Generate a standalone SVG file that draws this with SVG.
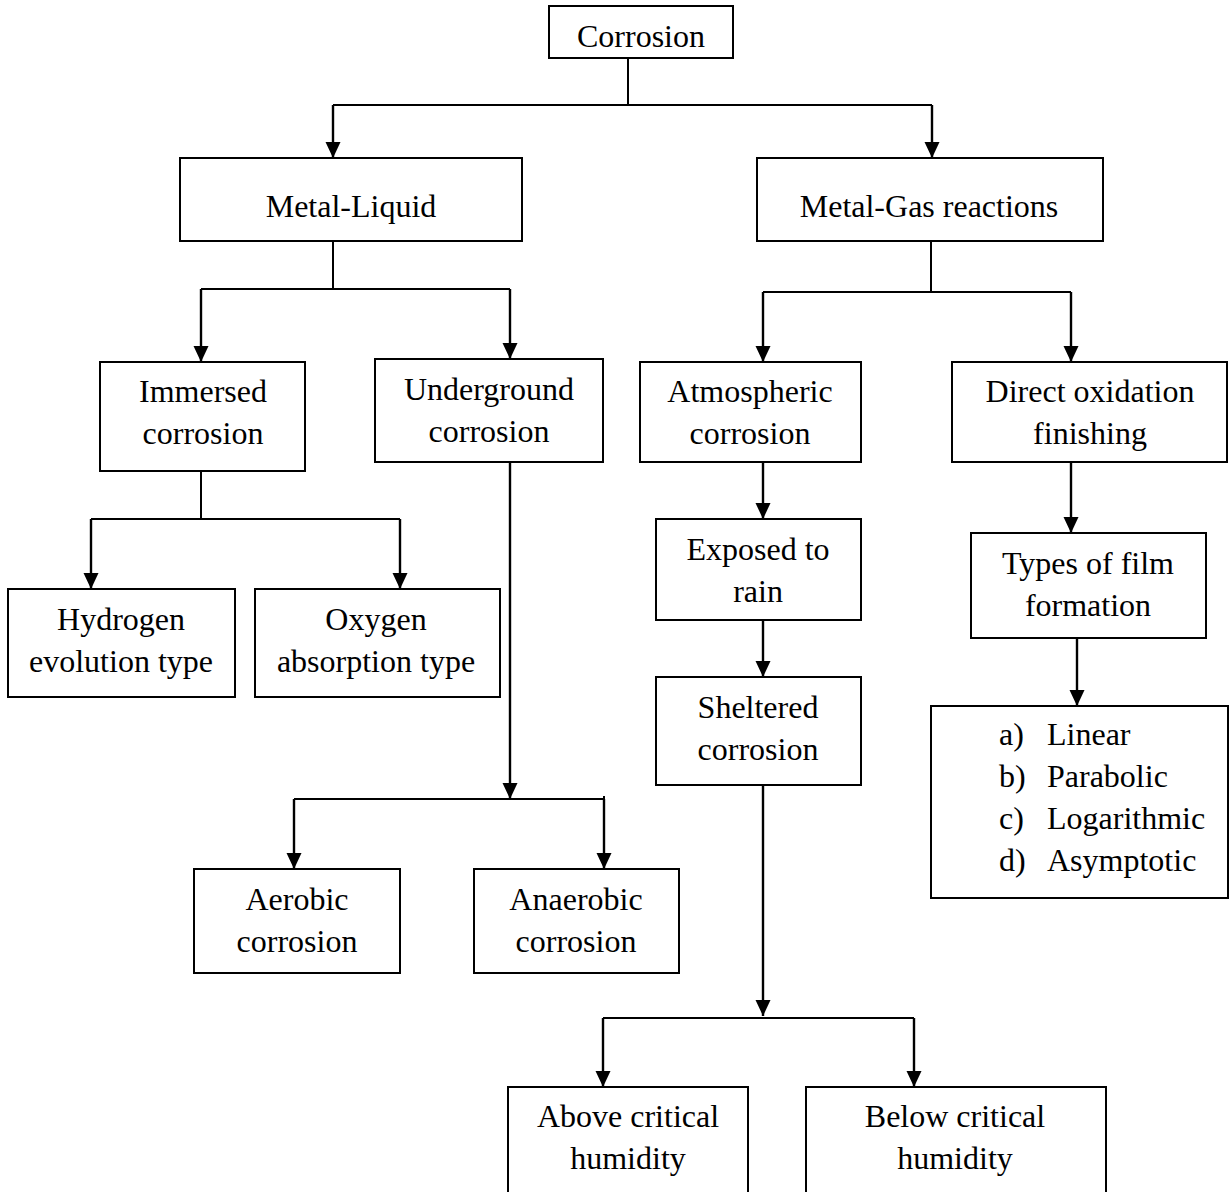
<svg xmlns="http://www.w3.org/2000/svg" width="1229" height="1192" viewBox="0 0 1229 1192">
<style>
.box{fill:#fff;stroke:#000;stroke-width:2}
.t{font-family:"Liberation Serif","Times New Roman",serif;font-size:32px;fill:#000;text-anchor:middle}
.ts{font-family:"Liberation Serif","Times New Roman",serif;font-size:32px;fill:#000}
.c{fill:none;stroke:#000;stroke-width:2}
.a{fill:none;stroke:#000;stroke-width:2.4;marker-end:url(#arr)}
</style>
<defs>
<marker id="arr" markerUnits="userSpaceOnUse" markerWidth="16" markerHeight="16" refX="16" refY="8" orient="auto">
<path d="M0,0.5 L16,8 L0,15.5 z" fill="#000"/>
</marker>
</defs>
<rect width="1229" height="1192" fill="#fff"/>
<g id="connectors">
<path class="c" d="M628,58 V105 M333,105 H932"/>
<path class="a" d="M333,105 V158"/>
<path class="a" d="M932,105 V158"/>
<path class="c" d="M333,241 V289 M201,289 H510"/>
<path class="a" d="M201,289 V362"/>
<path class="a" d="M510,289 V359"/>
<path class="c" d="M931,241 V292 M763,292 H1071"/>
<path class="a" d="M763,292 V362"/>
<path class="a" d="M1071,292 V362"/>
<path class="c" d="M201,471 V519 M91,519 H400"/>
<path class="a" d="M91,519 V589"/>
<path class="a" d="M400,519 V589"/>
<path class="a" d="M510,462 V799"/>
<path class="c" d="M294,799 H604 M604,796 V799"/>
<path class="a" d="M294,799 V869"/>
<path class="a" d="M604,799 V869"/>
<path class="a" d="M763,462 V519"/>
<path class="a" d="M763,620 V677"/>
<path class="a" d="M763,785 V1016"/>
<path class="c" d="M603,1018 H914"/>
<path class="a" d="M603,1018 V1087"/>
<path class="a" d="M914,1018 V1087"/>
<path class="a" d="M1071,462 V533"/>
<path class="a" d="M1077,638 V706"/>
</g>
<g id="corrosion"><rect class="box" x="549" y="6" width="184" height="52"/><text class="t" x="641" y="47">Corrosion</text></g>
<g id="metal-liquid"><rect class="box" x="180" y="158" width="342" height="83"/><text class="t" x="351" y="217">Metal-Liquid</text></g>
<g id="metal-gas"><rect class="box" x="757" y="158" width="346" height="83"/><text class="t" x="929" y="217">Metal-Gas reactions</text></g>
<g id="immersed"><rect class="box" x="100" y="362" width="205" height="109"/><text class="t" x="203" y="402">Immersed</text><text class="t" x="203" y="444">corrosion</text></g>
<g id="underground"><rect class="box" x="375" y="359" width="228" height="103"/><text class="t" x="489" y="400">Underground</text><text class="t" x="489" y="442">corrosion</text></g>
<g id="atmospheric"><rect class="box" x="640" y="362" width="221" height="100"/><text class="t" x="750" y="402">Atmospheric</text><text class="t" x="750" y="444">corrosion</text></g>
<g id="direct"><rect class="box" x="952" y="362" width="275" height="100"/><text class="t" x="1090" y="402">Direct oxidation</text><text class="t" x="1090" y="444">finishing</text></g>
<g id="hydrogen"><rect class="box" x="8" y="589" width="227" height="108"/><text class="t" x="121" y="630">Hydrogen</text><text class="t" x="121" y="672">evolution type</text></g>
<g id="oxygen"><rect class="box" x="255" y="589" width="245" height="108"/><text class="t" x="376" y="630">Oxygen</text><text class="t" x="376" y="672">absorption type</text></g>
<g id="exposed"><rect class="box" x="656" y="519" width="205" height="101"/><text class="t" x="758" y="560">Exposed to</text><text class="t" x="758" y="602">rain</text></g>
<g id="types"><rect class="box" x="971" y="533" width="235" height="105"/><text class="t" x="1088" y="574">Types of film</text><text class="t" x="1088" y="616">formation</text></g>
<g id="sheltered"><rect class="box" x="656" y="677" width="205" height="108"/><text class="t" x="758" y="718">Sheltered</text><text class="t" x="758" y="760">corrosion</text></g>
<g id="list"><rect class="box" x="931" y="706" width="297" height="192"/>
<text class="ts" x="999" y="745">a)</text><text class="ts" x="1047" y="745">Linear</text>
<text class="ts" x="999" y="787">b)</text><text class="ts" x="1047" y="787">Parabolic</text>
<text class="ts" x="999" y="829">c)</text><text class="ts" x="1047" y="829">Logarithmic</text>
<text class="ts" x="999" y="871">d)</text><text class="ts" x="1047" y="871">Asymptotic</text></g>
<g id="aerobic"><rect class="box" x="194" y="869" width="206" height="104"/><text class="t" x="297" y="910">Aerobic</text><text class="t" x="297" y="952">corrosion</text></g>
<g id="anaerobic"><rect class="box" x="474" y="869" width="205" height="104"/><text class="t" x="576" y="910">Anaerobic</text><text class="t" x="576" y="952">corrosion</text></g>
<g id="above"><rect class="box" x="508" y="1087" width="240" height="130"/><text class="t" x="628" y="1127">Above critical</text><text class="t" x="628" y="1169">humidity</text></g>
<g id="below"><rect class="box" x="806" y="1087" width="300" height="130"/><text class="t" x="955" y="1127">Below critical</text><text class="t" x="955" y="1169">humidity</text></g>
</svg>
